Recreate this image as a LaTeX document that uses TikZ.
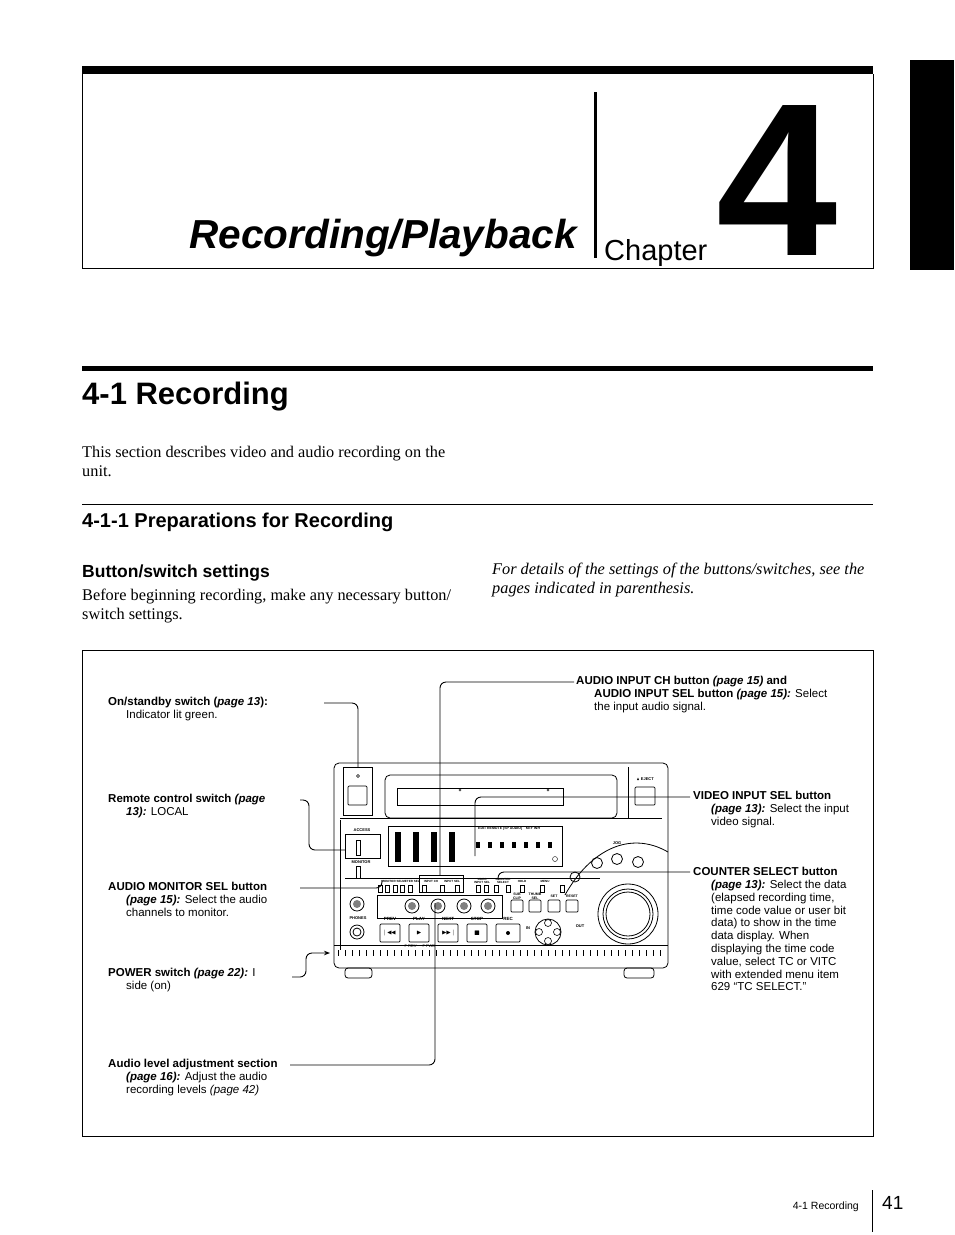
\documentclass[tikz,border=0pt]{standalone}
\usepackage{amssymb}
\usepackage{fontspec}
\setmainfont{Liberation Serif}
\setsansfont{Liberation Sans}
\usetikzlibrary{arrows.meta}
\begin{document}
\begin{tikzpicture}[x=1pt,y=-1pt,
  call/.style={font=\sffamily\fontsize{11.5}{12.8}\selectfont,anchor=north west,align=left,inner sep=0},
  lead/.style={line width=0.9pt,rounded corners=6pt},
  dev/.style={line width=0.8pt},
  tiny/.style={font=\sffamily\bfseries\fontsize{3}{3.3}\selectfont,inner sep=0,align=center},
  btn/.style={draw,line width=0.7pt,rounded corners=1pt}]
\useasboundingbox (0,0) rectangle (954,1235);
% chapter header
\fill (82,66) rectangle (873,74);
\draw[line width=0.8pt] (82,74) -- (82,268) -- (873,268) -- (873,74);
\fill (910,60) rectangle (954,270);
\fill (594,92) rectangle (597,258);
\node[anchor=base east,inner sep=0,font=\sffamily\bfseries\itshape\fontsize{40.5}{42}\selectfont] (title) at (577,248) {Recording/Playback};
\node[anchor=base west,inner sep=0,font=\sffamily\fontsize{29}{30}\selectfont] (chap) at (604,260) {Chapter};
\node[anchor=base,inner sep=0,font=\sffamily\bfseries\fontsize{218}{218}\selectfont] (four) at (777,255) {4};
% section
\fill (82,366) rectangle (873,371);
\node[anchor=base west,inner sep=0,font=\sffamily\bfseries\fontsize{31}{32}\selectfont] (sec) at (82,404) {4-1 Recording};
\node[anchor=north west,inner sep=0,align=left,font=\fontsize{16.3}{19}\selectfont] (intro) at (82,446) {This section describes video and audio recording on the\\unit.};
\draw[line width=0.6pt] (82,504) -- (873,504);
\node[anchor=base west,inner sep=0,font=\sffamily\bfseries\fontsize{20}{22}\selectfont] (sub) at (82,527) {4-1-1 Preparations for Recording};
\node[anchor=base west,inner sep=0,font=\sffamily\bfseries\fontsize{17.5}{20}\selectfont] (bs) at (82,577) {Button/switch settings};
\node[anchor=north west,inner sep=0,align=left,font=\fontsize{16.3}{19}\selectfont] (bst) at (82,589) {Before beginning recording, make any necessary button/\\switch settings.};
\node[anchor=north west,inner sep=0,align=left,font=\itshape\fontsize{16.3}{19}\selectfont] (note) at (492,563) {For details of the settings of the buttons/switches, see the\\pages indicated in parenthesis.};
% figure frame
\draw[line width=0.7pt] (82,650) rectangle (873,1136);
% device body
\draw[dev,rounded corners=5pt] (334,763) rectangle (668,968);
\draw[dev] (334,945) -- (668,945);
\draw[dev] (340,818) -- (662,818);
\draw[dev] (340,820) -- (340,950);
\foreach \x in {338,345,...,660} \draw[line width=0.4pt] (\x,950) -- (\x,956);
\draw[dev,rounded corners=3pt] (345,968) rectangle (372,978);
\draw[dev,rounded corners=3pt] (624,968) rectangle (654,978);
% power box
\draw[dev] (343,767) rectangle (372,815);
\draw[btn] (348,786) rectangle (367,805);
\draw (358,776) circle (1.5);
% disc slot
\draw[dev,rounded corners=5pt] (385,775) rectangle (617,818);
\draw[dev] (397,788) rectangle (563,805);
\draw (460,790) circle (1.2) (548,790) circle (1.2);
% eject
\draw[btn] (635,787) rectangle (655,805);
\node[font=\sffamily\bfseries\fontsize{4}{4}\selectfont,inner sep=0] (ej) at (645,779) {$\blacktriangle$ EJECT};
\draw[dev] (628,767) -- (628,818);
% access / switches
\node[font=\sffamily\bfseries\fontsize{4}{4}\selectfont,inner sep=0] (acc) at (362,830) {ACCESS};
\draw[line width=0.5pt] (345,834) rectangle (380,858);
\node[font=\sffamily\bfseries\fontsize{4}{4}\selectfont,inner sep=0] (mon) at (361,862) {MONITOR};
\draw[line width=0.5pt] (356,840) rectangle (360,855);
\draw[line width=0.5pt] (356,866) rectangle (360,878);
% display
\draw[line width=0.6pt] (388,826) rectangle (562,866);
\foreach \x in {395,413,431,449} {\fill (\x,832) rectangle (\x+6,862);}
\foreach \x in {480,492,...,560} {\fill (\x-4,842) rectangle (\x,848);}
\draw (555,859) circle (2.5);
\node[font=\sffamily\bfseries\fontsize{3.5}{4}\selectfont,inner sep=0,anchor=west] (edit) at (478,829) {EDIT REMOTE [SP AUDIO]\quad KEY INH};
% jog area
\draw[dev] (565,895) .. controls (590,850) and (630,830) .. (668,852);
\node[font=\sffamily\bfseries\fontsize{4}{4}\selectfont,inner sep=0] (jog) at (617,843) {JOG};
\draw[dev] (597,863) circle (5.5) (617,859) circle (5.5) (638,862) circle (5.5);
\draw[dev] (628,914) circle (30);
\draw[dev] (628,914) circle (25);
\draw[dev] (628,914) circle (22);
\draw[dev] (575,877) circle (5);
% button row
\draw[line width=0.6pt] (345,878) -- (600,878);
\foreach \x/\t in {392/MONITOR SEL,411/METER SEL,431/INPUT CH,452/INPUT SEL,482/{VIDEO\\INPUT SEL},503/{COUNTER\\SELECT},522/HOLD,545/MENU}
  {\node[tiny] at (\x,881) {\t};}
\foreach \x in {378,385,393,400,408,422,440,455,476,484,494,506,520,540,560} \draw[line width=0.6pt] (\x,885) rectangle (\x+4,892);
\draw[line width=0.8pt] (419,875) rectangle (463,892);
% knobs
\draw[line width=0.6pt] (377,895) rectangle (502,918);
\foreach \x in {412,438,464,488} {\draw[line width=0.8pt] (\x,906) circle (7); \fill[gray] (\x,906) circle (4);}
\draw[line width=0.8pt] (357,904) circle (7); \fill[gray] (357,904) circle (4);
% sub buttons
\foreach \x/\t in {511/{SUB\\CLIP},529/{THUMB\\SEL},548/SET,566/RESET}
 {\node[tiny,font=\sffamily\bfseries\fontsize{3.5}{3.8}\selectfont] at (\x+6,896) {\t}; \draw[btn] (\x,900) rectangle (\x+12,912);}
% transport
\node[font=\sffamily\bfseries\fontsize{4}{4}\selectfont,inner sep=0] at (358,918) {PHONES};
\draw[dev] (357,932) circle (7) (357,932) circle (4);
\foreach \x/\t/\s in {390/PREV/{|\!\blacktriangleleft\!\blacktriangleleft},419/PLAY/{\blacktriangleright},448/NEXT/{\blacktriangleright\!\blacktriangleright\!|},477/STOP/{\blacksquare}}
 {\node[font=\sffamily\bfseries\fontsize{4.5}{4.5}\selectfont,inner sep=0] at (\x,919) {\t};
  \draw[btn] (\x-10,924) rectangle (\x+10,942);
  \node[inner sep=0,font=\fontsize{6}{6}\selectfont] at (\x,933) {$\s$};}
\node[font=\sffamily\bfseries\fontsize{4.5}{4.5}\selectfont,inner sep=0] at (508,919) {REC};
\draw[btn] (496,924) rectangle (520,942); \fill (508,933) circle (2);
\node[font=\sffamily\fontsize{4}{4}\selectfont,inner sep=0] at (420,946) {F REV \quad\ F FWD};
\draw[dev] (548,932) circle (13);
\foreach \a in {0,90,180,270} \draw[line width=0.6pt] ([shift={(\a:9)}]548,932) circle (3.5);
\node[font=\sffamily\bfseries\fontsize{4}{4}\selectfont,inner sep=0] at (528,928) {IN};
\node[font=\sffamily\bfseries\fontsize{4}{4}\selectfont,inner sep=0] at (580,926) {OUT};
% anchor coordinates
\coordinate (pw) at (358,767);
\coordinate (rc) at (345,850);
\coordinate (ams) at (382,880);
\coordinate (pwr) at (330,953);
\coordinate (alv) at (435,903);
\coordinate (aic) at (440,875);
\coordinate (vis) at (475,856);
\coordinate (cs) at (498,880);
% callouts left
\node[call] (t1) at (108,697) {\textbf{On/standby switch (\textit{page 13}):}};
\node[call] (t1b) at (126,710) {Indicator lit green.};
\node[call] (t2) at (108,794) {\textbf{Remote control switch \textit{(page}}};
\node[call] (t2b) at (126,807) {\textbf{\textit{13):}} LOCAL};
\node[call] (t3) at (108,882) {\textbf{AUDIO MONITOR SEL button}};
\node[call] (t3b) at (126,895) {\textbf{\textit{(page 15):}} Select the audio\\channels to monitor.};
\node[call] (t4) at (108,968) {\textbf{POWER switch \textit{(page 22):}} I};
\node[call] (t4b) at (126,981) {side (on)};
\node[call] (t5) at (108,1059) {\textbf{Audio level adjustment section}};
\node[call] (t5b) at (126,1072) {\textbf{\textit{(page 16):}} Adjust the audio\\recording levels \textit{(page 42)}};
% callouts right
\node[call] (r1) at (576,676) {\textbf{AUDIO INPUT CH button \textit{(page 15)} and}};
\node[call] (r1b) at (594,689) {\textbf{AUDIO INPUT SEL button \textit{(page 15):}} Select\\the input audio signal.};
\node[call] (r2) at (693,791) {\textbf{VIDEO INPUT SEL button}};
\node[call] (r2b) at (711,804) {\textbf{\textit{(page 13):}} Select the input\\video signal.};
\node[call] (r3) at (693,867) {\textbf{COUNTER SELECT button}};
\node[call] (r3b) at (711,880) {\textbf{\textit{(page 13):}} Select the data\\(elapsed recording time,\\time code value or user bit\\data) to show in the time\\data display. When\\displaying the time code\\value, select TC or VITC\\with extended menu item\\629 “TC SELECT.”};
% leader lines
\draw[lead] (324,703) -- (358,703) -- (pw);
\draw[lead] (300,800) -- (309,800) -- (309,850) -- (rc);
\draw[lead] (300,888) -- (382,888) -- (ams);
\draw[lead,-{Stealth[length=6pt]}] (292,977) -- (306,977) -- (306,953) -- (pwr);
\draw[lead] (290,1065) -- (435,1065) -- (alv);
\draw[lead] (574,682) -- (440,682) -- (aic);
\draw[lead] (690,797) -- (475,797) -- (vis);
\draw[lead] (690,872) -- (498,872) -- (cs);
% footer
\node[anchor=base east,inner sep=0,font=\sffamily\fontsize{10.5}{12}\selectfont] (foot) at (859,1209) {4-1 Recording};
\draw[line width=0.7pt] (872,1190) -- (872,1232);
\node[anchor=base west,inner sep=0,font=\sffamily\fontsize{19}{20}\selectfont] (pg) at (882,1209) {41};
\end{tikzpicture}
\end{document}
